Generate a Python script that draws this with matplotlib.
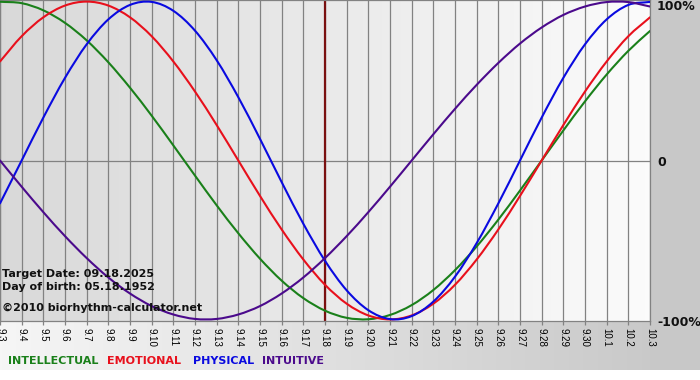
import numpy as np
import matplotlib
matplotlib.use("Agg")
import matplotlib.pyplot as plt
from matplotlib.path import Path
from matplotlib.patches import PathPatch

# ---------------- data (in %) ----------------
day_labels = ["9.3", "9.4", "9.5", "9.6", "9.7", "9.8", "9.9", "9.10", "9.11", "9.12",
              "9.13", "9.14", "9.15", "9.16", "9.17", "9.18", "9.19", "9.20", "9.21",
              "9.22", "9.23", "9.24", "9.25", "9.26", "9.27", "9.28", "9.29", "9.30",
              "10.1", "10.2", "10.3"]
intellectual = [99.9, 99.0, 94.5, 86.6, 75.6, 61.8, 45.8, 28.2, 9.5, -9.5, -28.2, -45.8,
                -61.8, -75.6, -86.6, -94.5, -99.0, -99.9, -97.2, -91.0, -81.5, -69.0,
                -54.1, -37.2, -18.9, 0.0, 18.9, 37.2, 54.1, 69.0, 81.5]
emotional = [62.3, 78.2, 90.1, 97.5, 100.0, 97.5, 90.1, 78.2, 62.3, 43.4, 22.3, 0.0,
             -22.3, -43.4, -62.3, -78.2, -90.1, -97.5, -100.0, -97.5, -90.1, -78.2,
             -62.3, -43.4, -22.3, 0.0, 22.3, 43.4, 62.3, 78.2, 90.1]
physical = [-27.0, 0.0, 27.0, 52.0, 73.1, 88.8, 97.9, 99.8, 94.2, 81.7, 63.1, 39.8,
            13.6, -13.6, -39.8, -63.1, -81.7, -94.2, -99.8, -97.9, -88.8, -73.1,
            -52.0, -27.0, 0.0, 27.0, 52.0, 73.1, 88.8, 97.9, 99.8]
intuitive = [0.0, -16.5, -32.5, -47.6, -61.4, -73.6, -83.7, -91.6, -96.9, -99.7, -99.7,
             -96.9, -91.6, -83.7, -73.6, -61.4, -47.6, -32.5, -16.5, 0.0, 16.5, 32.5,
             47.6, 61.4, 73.6, 83.7, 91.6, 96.9, 99.7, 99.7, 96.9]
target_index = 15
series_names = ["INTELLECTUAL", "EMOTIONAL", "PHYSICAL", "INTUITIVE"]
info_lines = ["Target Date: 09.18.2025", "Day of birth: 05.18.1952", "\u00a92010 biorhythm-calculator.net"]
right_labels = ["100%", "0", "-100%"]

colors = ["#1a801a", "#e8101c", "#0a0ae0", "#4b0a8c"]

W, H = 700, 380
fig = plt.figure(figsize=(W / 100, H / 100), dpi=100)

# ---------------- background ----------------
bg = np.ones((H, W, 3))
bg[:370, 650:, :] = 0.785
grad = np.linspace(0.965, 0.79, 650)
bg[321:370, :650, :] = grad[None, :, None]
bga = fig.add_axes([0, 0, 1, 1], zorder=-5)
bga.imshow(bg, aspect="auto", extent=(0, W, H, 0), interpolation="nearest")
bga.set_axis_off()

# ---------------- main axes ----------------
px_l, px_r, px_t, px_b = 0, 650, 0, 321
ax = fig.add_axes([px_l / W, 1 - px_b / H, (px_r - px_l) / W, (px_b - px_t) / H])
days = np.arange(len(day_labels))
ax.set_xlim(0, len(day_labels) - 1)
ax.set_ylim(-101, 101)

g = np.linspace(0.85, 0.985, 256)
gimg = np.repeat(np.dstack([g, g, g]), 2, axis=0)
ax.imshow(gimg, aspect="auto", extent=(0, len(day_labels) - 1, -101, 101), zorder=0,
          interpolation="bilinear")

for d in days:
    ax.axvline(d, color="#828282", lw=0.9, zorder=1)
ax.axhline(0, color="#828282", lw=0.9, zorder=1)
ax.axvline(days[target_index], color="#7a1010", lw=1.6, zorder=2)

def smooth_path(xs, ys):
    xs = np.asarray(xs, float)
    ys = np.asarray(ys, float)
    P = np.column_stack([xs, ys])
    Pext = np.vstack([2 * P[0] - P[1], P, 2 * P[-1] - P[-2]])
    verts = [tuple(P[0])]
    codes = [Path.MOVETO]
    for i in range(len(P) - 1):
        p0, p1, p2, p3 = Pext[i], Pext[i + 1], Pext[i + 2], Pext[i + 3]
        c1 = p1 + (p2 - p0) / 6.0
        c2 = p2 - (p3 - p1) / 6.0
        verts += [tuple(c1), tuple(c2), tuple(p2)]
        codes += [Path.CURVE4] * 3
    return Path(verts, codes)

for vals, c in zip([intellectual, emotional, physical, intuitive], colors):
    patch = PathPatch(smooth_path(days, vals), fill=False, edgecolor=c, lw=1.5, zorder=3,
                      capstyle="round", joinstyle="round")
    ax.add_patch(patch)

for s in ax.spines.values():
    s.set_color("#828282")
    s.set_linewidth(0.9)

ax.set_yticks([])
ax.set_xticks(days)
ax.set_xticklabels(day_labels, rotation=270, fontsize=7, family="Liberation Sans")
ax.tick_params(axis="x", direction="out", length=3, width=0.9, color="#828282", pad=2)
for lab in ax.get_xticklabels():
    lab.set_verticalalignment("top")
    lab.set_horizontalalignment("center")

# ---------------- texts ----------------
def ftext(x, y, s, **kw):
    fig.text(x / W, 1 - y / H, s, **kw)

for s, y in zip(info_lines, [277, 290.5, 311]):
    ftext(2, y, s, fontsize=8, fontweight="bold", color="#111111", va="baseline", ha="left")

for s, y in zip(right_labels, [7, 162, 322]):
    ftext(657, y, s, fontsize=9, fontweight="bold", color="#111111", va="center", ha="left")

for name, c, x in zip(series_names, colors, [8, 107, 193, 262]):
    ftext(x, 361, name, fontsize=8, fontweight="bold", color=c, va="center", ha="left")

fig.savefig("out.png", dpi=100)
